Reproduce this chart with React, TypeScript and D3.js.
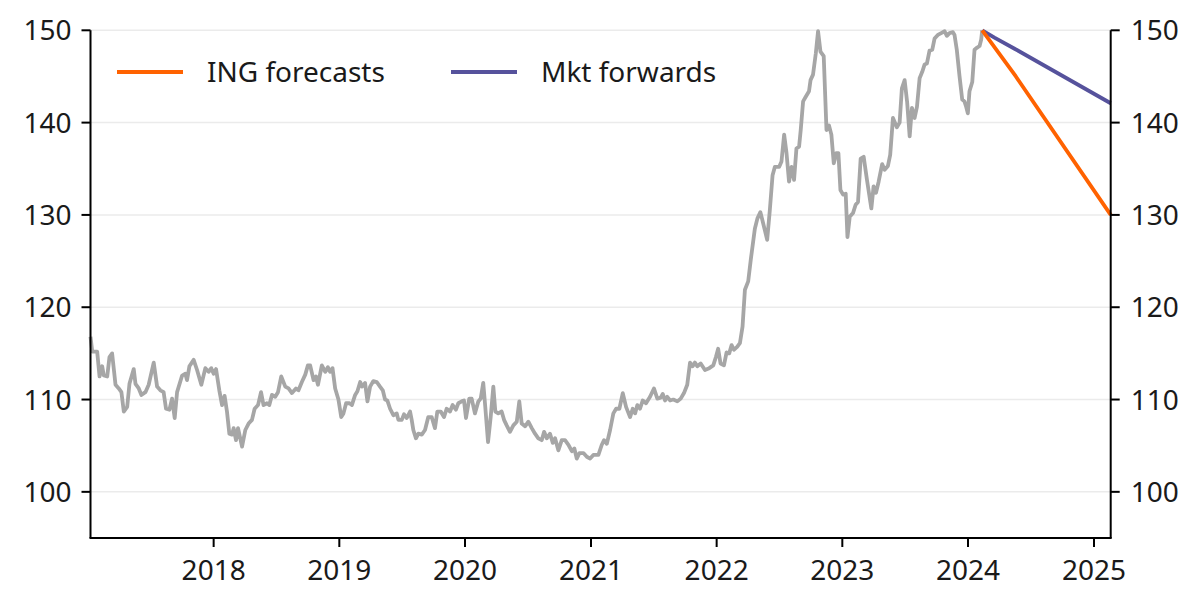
import React from "react";
import * as d3 from "d3";

// Spot series: [decimal year, value]
const spotSeries: [number, number][] = [
  [2017.020, 116.8], [2017.034, 115.2], [2017.073, 115.2], [2017.092, 112.5], [2017.113, 113.6],
  [2017.126, 112.6], [2017.153, 112.5], [2017.171, 114.6], [2017.192, 115.0], [2017.219, 111.6],
  [2017.245, 111.2], [2017.266, 110.8], [2017.285, 108.7], [2017.312, 109.2], [2017.330, 111.7],
  [2017.364, 113.3], [2017.378, 111.7], [2017.404, 111.2], [2017.425, 110.5], [2017.457, 110.8],
  [2017.483, 111.6], [2017.523, 114.0], [2017.550, 111.4], [2017.576, 111.0], [2017.602, 110.8],
  [2017.621, 109.0], [2017.648, 108.9], [2017.669, 110.1], [2017.690, 108.0], [2017.709, 110.8],
  [2017.749, 112.6], [2017.775, 112.8], [2017.788, 112.1], [2017.807, 113.6], [2017.841, 114.3],
  [2017.868, 113.2], [2017.902, 111.6], [2017.934, 113.4], [2017.960, 113.0], [2017.981, 113.4],
  [2018.000, 112.8], [2018.019, 113.3], [2018.045, 111.0], [2018.067, 109.4], [2018.087, 110.4],
  [2018.106, 108.7], [2018.125, 106.3], [2018.146, 106.2], [2018.159, 106.9], [2018.178, 105.6],
  [2018.194, 106.9], [2018.226, 104.9], [2018.252, 106.7], [2018.278, 107.4], [2018.305, 107.8],
  [2018.326, 109.0], [2018.353, 109.4], [2018.377, 110.8], [2018.397, 109.4], [2018.424, 109.6],
  [2018.443, 109.4], [2018.464, 110.5], [2018.490, 110.3], [2018.512, 110.8], [2018.538, 112.5],
  [2018.570, 111.4], [2018.596, 111.2], [2018.623, 110.7], [2018.655, 111.2], [2018.675, 111.0],
  [2018.702, 111.9], [2018.729, 112.7], [2018.750, 113.7], [2018.768, 113.7], [2018.795, 112.1],
  [2018.814, 112.5], [2018.830, 111.6], [2018.861, 113.7], [2018.888, 113.0], [2018.909, 113.5],
  [2018.927, 113.0], [2018.946, 113.4], [2018.967, 111.2], [2018.993, 110.0], [2019.015, 108.1],
  [2019.033, 108.5], [2019.054, 109.6], [2019.081, 109.6], [2019.100, 109.4], [2019.126, 110.5],
  [2019.144, 110.9], [2019.166, 111.9], [2019.181, 111.4], [2019.205, 111.8], [2019.224, 109.8],
  [2019.245, 111.4], [2019.271, 112.0], [2019.298, 111.9], [2019.324, 111.4], [2019.346, 111.0],
  [2019.364, 110.0], [2019.382, 109.9], [2019.404, 109.0], [2019.430, 108.3], [2019.457, 108.5],
  [2019.470, 107.8], [2019.497, 107.8], [2019.515, 108.4], [2019.537, 108.0], [2019.563, 108.7],
  [2019.576, 107.8], [2019.589, 106.7], [2019.610, 105.8], [2019.629, 106.3], [2019.656, 106.2],
  [2019.682, 106.7], [2019.708, 108.1], [2019.735, 108.1], [2019.761, 106.9], [2019.780, 108.7],
  [2019.807, 108.7], [2019.833, 108.1], [2019.854, 109.0], [2019.881, 108.7], [2019.902, 109.4],
  [2019.928, 108.9], [2019.947, 109.6], [2019.974, 109.8], [2019.992, 109.9], [2020.008, 108.0],
  [2020.034, 110.1], [2020.053, 110.1], [2020.079, 108.5], [2020.106, 109.8], [2020.125, 110.1],
  [2020.145, 111.8], [2020.161, 109.2], [2020.183, 105.4], [2020.204, 108.1], [2020.225, 111.4],
  [2020.241, 108.7], [2020.264, 108.5], [2020.291, 108.7], [2020.310, 107.8], [2020.331, 107.2],
  [2020.357, 106.5], [2020.384, 107.2], [2020.411, 107.6], [2020.431, 109.8], [2020.450, 107.4],
  [2020.477, 107.1], [2020.503, 107.6], [2020.530, 106.9], [2020.556, 106.3], [2020.582, 105.8],
  [2020.609, 105.6], [2020.628, 106.5], [2020.649, 105.8], [2020.675, 106.3], [2020.697, 105.3],
  [2020.715, 105.8], [2020.741, 104.5], [2020.768, 105.6], [2020.794, 105.6], [2020.821, 105.1],
  [2020.848, 104.4], [2020.868, 104.7], [2020.887, 103.6], [2020.908, 104.2], [2020.940, 104.2],
  [2020.967, 103.8], [2020.993, 103.6], [2021.019, 104.0], [2021.059, 104.0], [2021.086, 105.1],
  [2021.104, 105.6], [2021.126, 105.2], [2021.152, 106.7], [2021.178, 108.5], [2021.200, 109.0],
  [2021.226, 109.0], [2021.253, 110.7], [2021.279, 109.2], [2021.311, 108.1], [2021.332, 109.0],
  [2021.351, 108.5], [2021.369, 109.4], [2021.390, 109.0], [2021.412, 109.9], [2021.438, 109.6],
  [2021.470, 110.3], [2021.501, 111.2], [2021.528, 110.1], [2021.555, 110.2], [2021.571, 110.6],
  [2021.589, 109.9], [2021.607, 110.3], [2021.629, 109.9], [2021.655, 110.0], [2021.687, 109.8],
  [2021.714, 110.1], [2021.740, 110.7], [2021.766, 111.6], [2021.788, 114.0], [2021.809, 113.6],
  [2021.827, 114.0], [2021.846, 113.6], [2021.873, 113.9], [2021.907, 113.2], [2021.941, 113.4],
  [2021.973, 113.7], [2021.994, 114.6], [2022.012, 115.5], [2022.031, 113.9], [2022.058, 113.7],
  [2022.079, 115.1], [2022.100, 115.0], [2022.119, 115.9], [2022.137, 115.4], [2022.163, 115.7],
  [2022.185, 116.1], [2022.206, 117.9], [2022.225, 121.9], [2022.251, 122.8], [2022.272, 125.2],
  [2022.304, 128.5], [2022.324, 129.6], [2022.348, 130.3], [2022.370, 129.1], [2022.402, 127.3],
  [2022.423, 130.5], [2022.445, 134.3], [2022.463, 135.2], [2022.497, 135.2], [2022.516, 135.8],
  [2022.537, 138.7], [2022.556, 136.7], [2022.576, 133.6], [2022.596, 135.2], [2022.616, 133.8],
  [2022.635, 137.2], [2022.656, 137.4], [2022.669, 139.2], [2022.688, 142.3], [2022.709, 142.8],
  [2022.735, 143.4], [2022.747, 144.6], [2022.767, 145.2], [2022.789, 147.5], [2022.807, 149.9],
  [2022.826, 147.7], [2022.852, 147.2], [2022.874, 139.2], [2022.894, 139.7], [2022.913, 138.7],
  [2022.932, 135.6], [2022.953, 136.7], [2022.969, 136.7], [2022.985, 132.7], [2023.006, 132.2],
  [2023.027, 132.3], [2023.041, 127.6], [2023.059, 129.8], [2023.085, 130.2], [2023.106, 131.1],
  [2023.125, 131.4], [2023.146, 136.1], [2023.170, 136.3], [2023.196, 133.8], [2023.231, 130.7],
  [2023.249, 133.1], [2023.268, 132.4], [2023.289, 133.6], [2023.317, 135.5], [2023.337, 134.9],
  [2023.363, 135.3], [2023.381, 136.5], [2023.403, 140.5], [2023.434, 139.5], [2023.456, 140.0],
  [2023.474, 143.7], [2023.496, 144.6], [2023.516, 142.2], [2023.536, 138.5], [2023.554, 141.6],
  [2023.575, 140.5], [2023.594, 141.7], [2023.615, 144.8], [2023.636, 145.5], [2023.655, 146.3],
  [2023.673, 146.4], [2023.694, 147.8], [2023.716, 147.9], [2023.734, 149.1], [2023.760, 149.5],
  [2023.787, 149.7], [2023.814, 149.9], [2023.832, 149.4], [2023.853, 149.7], [2023.880, 149.8],
  [2023.893, 149.5], [2023.911, 147.9], [2023.933, 145.0], [2023.954, 142.5], [2023.972, 142.3],
  [2023.986, 141.7], [2023.999, 141.0], [2024.012, 143.4], [2024.034, 144.4], [2024.052, 147.9],
  [2024.070, 148.1], [2024.092, 148.3], [2024.105, 149.0], [2024.113, 150.0],
];

const ingForecasts: [number, number][] = [
  [2024.113, 150.0], [2024.38, 145.0], [2025.133, 130.0],
];

const mktForwards: [number, number][] = [
  [2024.113, 150.0], [2024.21, 149.2], [2024.37, 148.0], [2025.133, 142.1],
];

const yTicks = [100, 110, 120, 130, 140, 150];
const xTickYears = [2018, 2019, 2020, 2021, 2022, 2023, 2024, 2025];
const legendItems = [
  { label: "ING forecasts", color: "#FF6200" },
  { label: "Mkt forwards", color: "#56529C" },
];
const xDomainYears: [number, number] = [2017.02, 2025.133];
const yDomain: [number, number] = [95, 150];

function yearToDate(y: number): Date {
  const yr = Math.floor(y);
  const start = new Date(yr, 0, 1).getTime();
  const end = new Date(yr + 1, 0, 1).getTime();
  return new Date(start + (y - yr) * (end - start));
}

const W = 1200;
const H = 607;
const M = { left: 90.5, right: W - 1110.7, top: 30.3, bottom: H - 538 };
const FONT = "'Noto Sans', 'Open Sans', sans-serif";
const TEXT = "#1a1a1a";

export default function App() {
  const x = d3
    .scaleTime()
    .domain(xDomainYears.map(yearToDate) as [Date, Date])
    .range([M.left, W - M.right]);
  const y = d3.scaleLinear().domain(yDomain).range([H - M.bottom, M.top]);

  const line = d3
    .line<[number, number]>()
    .x((d) => x(yearToDate(d[0])))
    .y((d) => y(d[1]))
    .curve(d3.curveLinear);

  const x0 = M.left;
  const x1 = W - M.right;
  const yb = H - M.bottom;

  return (
    <div style={{ position: "absolute", left: 0, top: 0 }}>
      <svg width={W} height={H} style={{ display: "block", background: "#fff" }}>
        {/* gridlines */}
        {yTicks.map((t) => (
          <line key={"g" + t} x1={x0} x2={x1} y1={y(t)} y2={y(t)} stroke="#ebebeb" strokeWidth={1.5} />
        ))}
        {/* series */}
        <path d={line(spotSeries) || ""} fill="none" stroke="#a6a6a6" strokeWidth={3.8} strokeLinejoin="round" />
        <path d={line(mktForwards) || ""} fill="none" stroke={legendItems[1].color} strokeWidth={3.8} strokeLinejoin="round" />
        <path d={line(ingForecasts) || ""} fill="none" stroke={legendItems[0].color} strokeWidth={3.8} strokeLinejoin="round" />

        {/* axes */}
        <line x1={x0} x2={x0} y1={M.top} y2={yb} stroke="#000" strokeWidth={2} />
        <line x1={x1} x2={x1} y1={M.top} y2={yb} stroke="#000" strokeWidth={2} />
        <line x1={x0 - 1} x2={x1 + 1} y1={yb} y2={yb} stroke="#000" strokeWidth={2} />
        {yTicks.map((t) => (
          <g key={"yt" + t}>
            <line x1={x0 - 9} x2={x0} y1={y(t)} y2={y(t)} stroke="#000" strokeWidth={2} />
            <line x1={x1} x2={x1 + 9} y1={y(t)} y2={y(t)} stroke="#000" strokeWidth={2} />
            <text x={x0 - 19} y={y(t)} dy="0.36em" textAnchor="end" fontFamily={FONT} fontSize={28} fill={TEXT}>
              {t}
            </text>
            <text x={x1 + 20} y={y(t)} dy="0.36em" textAnchor="start" fontFamily={FONT} fontSize={28} fill={TEXT}>
              {t}
            </text>
          </g>
        ))}
        {xTickYears.map((yr) => {
          const px = x(new Date(yr, 0, 1));
          return (
            <g key={"xt" + yr}>
              <line x1={px} x2={px} y1={yb} y2={yb + 9} stroke="#000" strokeWidth={2} />
              <text x={px} y={580} textAnchor="middle" fontFamily={FONT} fontSize={28} fill={TEXT}>
                {yr}
              </text>
            </g>
          );
        })}

        {/* legend */}
        {legendItems.map((it, i) => {
          const lx = i === 0 ? 117 : 451;
          return (
            <g key={it.label}>
              <line x1={lx} x2={lx + 66} y1={72} y2={72} stroke={it.color} strokeWidth={3.8} />
              <text x={lx + 90} y={72} dy="0.36em" fontFamily={FONT} fontSize={28} fill={TEXT}>
                {it.label}
              </text>
            </g>
          );
        })}
      </svg>
    </div>
  );
}
